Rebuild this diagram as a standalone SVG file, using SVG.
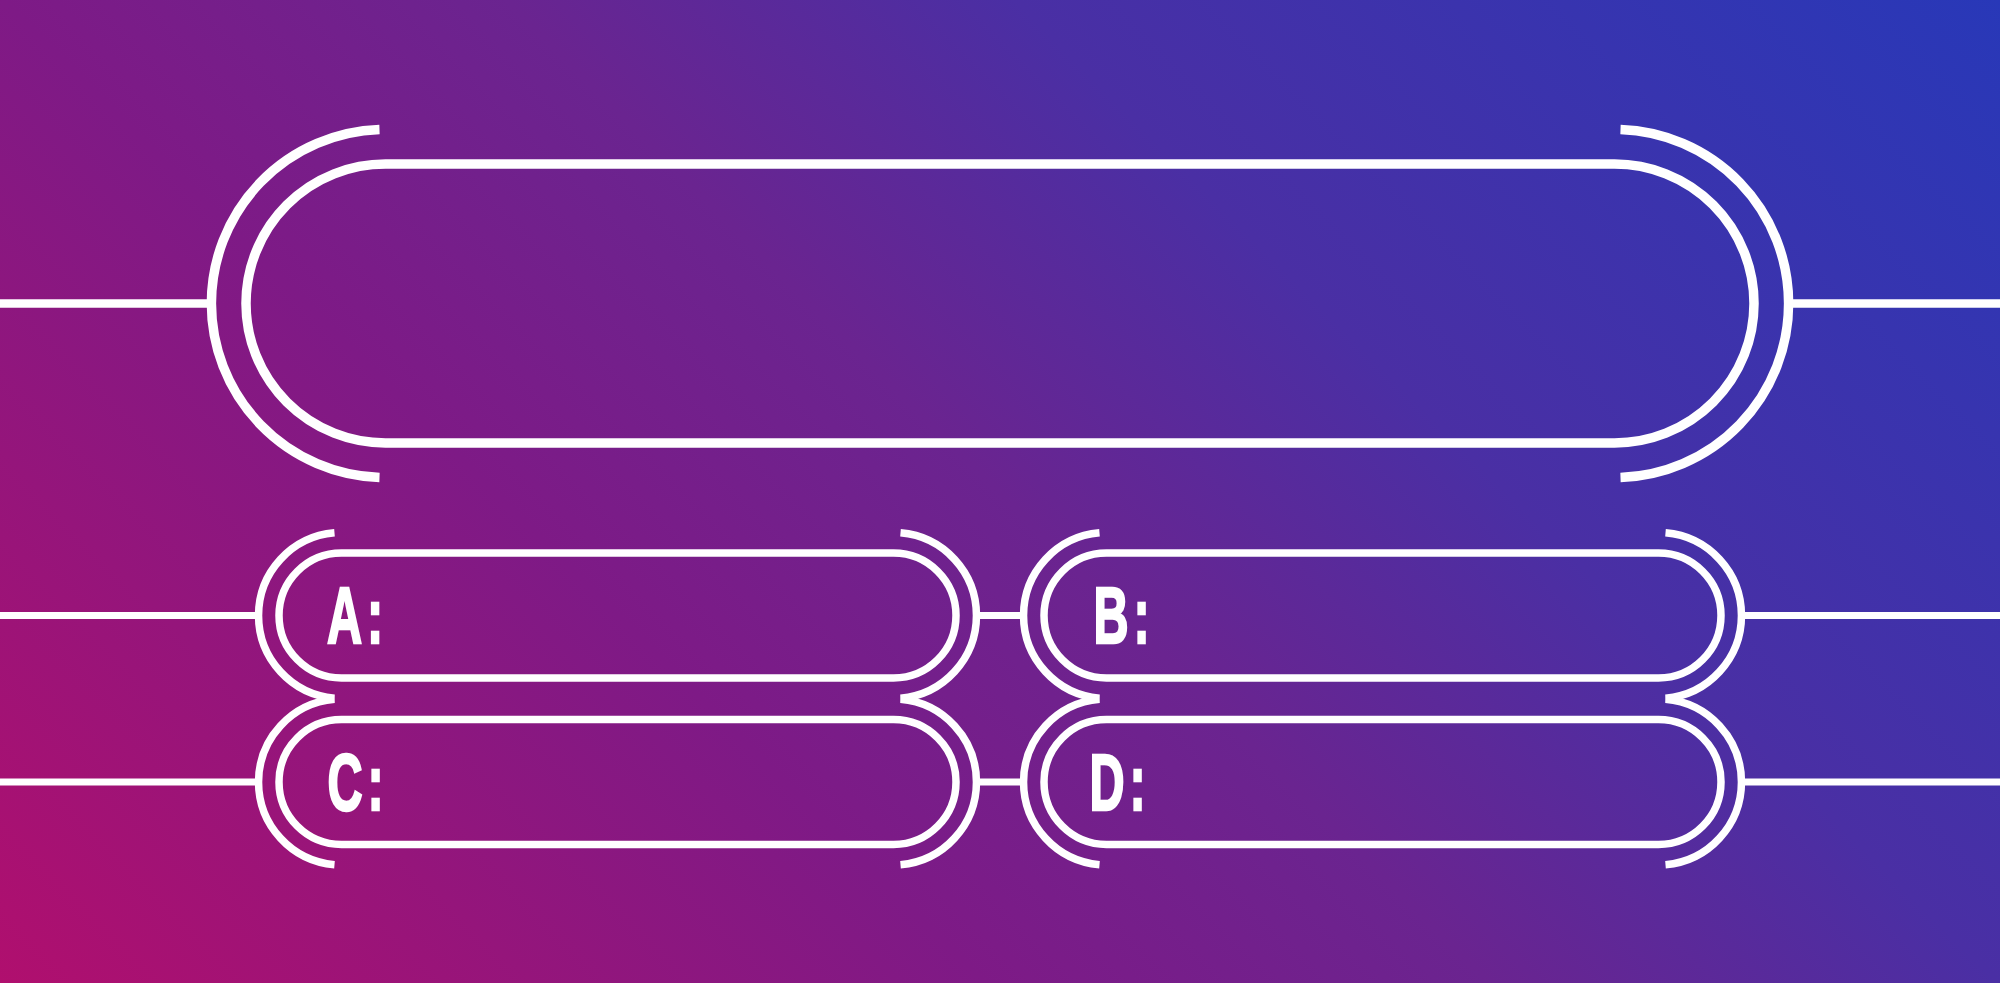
<svg xmlns="http://www.w3.org/2000/svg" width="2000" height="983" viewBox="0 0 2000 983">
  <defs>
    <linearGradient id="bg" gradientUnits="userSpaceOnUse" x1="0" y1="983" x2="1491.5" y2="-508.5">
      <stop offset="0" stop-color="#b00f6e"/>
      <stop offset="0.33" stop-color="#7e1a86"/>
      <stop offset="0.5" stop-color="#6a2490"/>
      <stop offset="0.67" stop-color="#4a2fa4"/>
      <stop offset="1" stop-color="#2838b8"/>
    </linearGradient>
  </defs>
  <style>
    .ln { fill: none; stroke: #ffffff; stroke-linecap: butt; }
    .big { stroke-width: 9.5; }
    .small { stroke-width: 7.5; }
    .cbig { stroke-width: 8.5; }
    .csmall { stroke-width: 7; }
    .label { font-family: "Liberation Sans", "DejaVu Sans", sans-serif; font-weight: bold; font-size: 80px; letter-spacing: 8px; fill: #ffffff; stroke: #ffffff; stroke-width: 2.5; stroke-linejoin: miter; }
  </style>

  <rect x="0" y="0" width="2000" height="983" fill="url(#bg)"/>

  <g id="connectors">
    <line class="ln cbig" x1="0" y1="303.5" x2="211.5" y2="303.5"/>
    <line class="ln cbig" x1="1788.5" y1="303.5" x2="2000" y2="303.5"/>
    <line class="ln csmall" x1="0" y1="615.5" x2="258.5" y2="615.5"/>
    <line class="ln csmall" x1="976.5" y1="615.5" x2="1023.5" y2="615.5"/>
    <line class="ln csmall" x1="1741.5" y1="615.5" x2="2000" y2="615.5"/>
    <line class="ln csmall" x1="0" y1="782" x2="258.5" y2="782"/>
    <line class="ln csmall" x1="976.5" y1="782" x2="1023.5" y2="782"/>
    <line class="ln csmall" x1="1741.5" y1="782" x2="2000" y2="782"/>
  </g>

  <g id="question">
    <rect class="ln big" x="246" y="164" width="1508" height="279" rx="139.5" ry="139.5"/>
    <path class="ln big" d="M 379.5 129.6 A 174 174 0 0 0 379.5 477.4"/>
    <path class="ln big" d="M 1620.5 129.6 A 174 174 0 0 1 1620.5 477.4"/>
  </g>

  <g id="answer-a">
    <rect class="ln small" x="279" y="553" width="677" height="125" rx="62.5" ry="62.5"/>
    <path class="ln small" d="M 334.5 532.8 A 83 83 0 0 0 334.5 698.2"/>
    <path class="ln small" d="M 900.5 532.8 A 83 83 0 0 1 900.5 698.2"/>
    <text class="label" x="327" y="643" textLength="61" lengthAdjust="spacingAndGlyphs">A:</text>
  </g>

  <g id="answer-b">
    <rect class="ln small" x="1044" y="553" width="677" height="125" rx="62.5" ry="62.5"/>
    <path class="ln small" d="M 1099.5 532.8 A 83 83 0 0 0 1099.5 698.2"/>
    <path class="ln small" d="M 1665.5 532.8 A 83 83 0 0 1 1665.5 698.2"/>
    <text class="label" x="1093.5" y="643" textLength="61" lengthAdjust="spacingAndGlyphs">B:</text>
  </g>

  <g id="answer-c">
    <rect class="ln small" x="279" y="719.5" width="677" height="125" rx="62.5" ry="62.5"/>
    <path class="ln small" d="M 334.5 699.3 A 83 83 0 0 0 334.5 864.7"/>
    <path class="ln small" d="M 900.5 699.3 A 83 83 0 0 1 900.5 864.7"/>
    <text class="label" x="327.5" y="810" textLength="61" lengthAdjust="spacingAndGlyphs">C:</text>
  </g>

  <g id="answer-d">
    <rect class="ln small" x="1044" y="719.5" width="677" height="125" rx="62.5" ry="62.5"/>
    <path class="ln small" d="M 1099.5 699.3 A 83 83 0 0 0 1099.5 864.7"/>
    <path class="ln small" d="M 1665.5 699.3 A 83 83 0 0 1 1665.5 864.7"/>
    <text class="label" x="1089.5" y="810" textLength="61" lengthAdjust="spacingAndGlyphs">D:</text>
  </g>
</svg>
